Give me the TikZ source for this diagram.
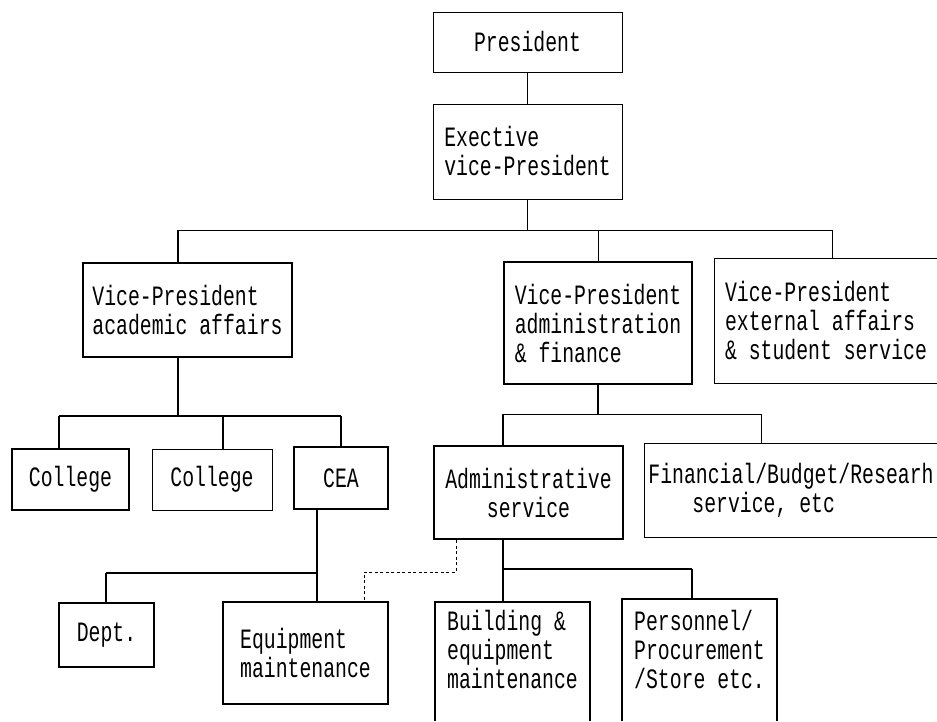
\documentclass[tikz,border=0pt]{standalone}
\usepackage{fontspec}
\newfontfamily\twfont[FakeStretch=0.707]{Liberation Mono}
\tikzset{
  box/.style={draw, inner sep=0pt, align=left, font=\twfont\fontsize{28}{29}\selectfont},
  openbox/.style={box, draw=none},
  thinl/.style={line width=1pt},
  medl/.style={line width=1.5pt},
  thickl/.style={line width=2.2pt},
  dotl/.style={line width=1pt, dash pattern=on 3pt off 2.5pt}
}
\begin{document}
\begin{tikzpicture}[x=1pt,y=-1pt]
\useasboundingbox[fill=white] (0,0) rectangle (937,721);
% boxes
\node[box, thinl, minimum width=189pt, minimum height=60pt] (pres) at (527.5,42) {President};
\node[box, thinl, minimum width=189pt, minimum height=95pt] (exec) at (527.5,151.5) {Exective\\vice-President};
\node[box, thickl, minimum width=209pt, minimum height=94pt] (vpa) at (187.5,310) {Vice-President\\academic affairs};
\node[box, thickl, minimum width=188pt, minimum height=122pt] (vpf) at (598,323) {Vice-President\\administration\\\& finance};
\node[openbox, minimum width=222pt, minimum height=124pt] (vpe) at (826,321) {Vice-President\\external affairs\\\& student service};
\node[box, medl, minimum width=117pt, minimum height=61pt] (col1) at (70.5,479.5) {College};
\node[box, thinl, minimum width=120pt, minimum height=61pt] (col2) at (212,479.5) {College};
\node[box, thickl, minimum width=94pt, minimum height=62pt] (cea) at (341,478) {CEA};
\node[box, thickl, minimum width=189pt, minimum height=93pt, align=center] (adm) at (528.5,492.5) {Administrative\\service};
\node[openbox, minimum width=292pt, minimum height=93pt] (fin) at (791,490.5) {Financial/Budget/Researh\\\hspace*{44pt}service, etc};
\node[box, medl, minimum width=95pt, minimum height=64pt] (dept) at (106.5,635) {Dept.};
\node[box, thickl, minimum width=165pt, minimum height=102pt] (equip) at (305.5,653) {Equipment\\maintenance};
\node[openbox, minimum width=155pt, minimum height=94pt] (bld) at (512.5,649) {Building \&\\equipment\\maintenance};
\node[openbox, minimum width=155pt, minimum height=100pt] (pers) at (699.5,649) {Personnel/\\Procurement\\/Store etc.};
\coordinate (bottom) at (0,721);
% open box outlines
\draw[thinl] (vpe.north east) -- (vpe.north west) -- (vpe.south west) -- (vpe.south east);
\draw[thinl] (fin.north east) -- (fin.north west) -- (fin.south west) -- (fin.south east);
\draw[thickl] (bld.north west |- bottom) -- (bld.north west) -- (bld.north east) -- (bld.north east |- bottom);
\draw[medl] (pers.north west |- bottom) -- (pers.north west) -- (pers.north east) -- (pers.north east |- bottom);
% bus coordinates
\coordinate (aL) at (178,230);
\coordinate (aR) at (832,230);
\coordinate (cL) at (59,416);
\coordinate (cM) at (223,416);
\coordinate (cR) at (341,416);
\coordinate (dL) at (106,573);
\coordinate (dR) at (317,573);
\coordinate (fL) at (503,414);
\coordinate (fR) at (761,414);
\coordinate (gL) at (503,569);
\coordinate (gR) at (692,569);
\coordinate (hT) at (456,572);
\coordinate (hL) at (364,572);
% connectors
\draw[thinl] (pres) -- (exec);
\draw[thinl] (exec.south) -- (exec.south |- aL);
\draw[thinl] (aL) -- (aR);
\draw[medl] (aL) -- (vpa.north -| aL);
\draw[thinl] (vpf.north |- aL) -- (vpf.north);
\draw[thinl] (aR) -- (vpe.north -| aR);
\draw[thickl] (vpa.south -| aL) -- (aL |- cL);
\draw[medl] (cL) -- (cR);
\draw[medl] (cL) -- (col1.north -| cL);
\draw[medl] (cM) -- (col2.north -| cM);
\draw[medl] (cR) -- (cea.north);
\draw[thickl] (cea.south -| dR) -- (dR);
\draw[thickl] (dL) -- (dR);
\draw[thickl] (dL) -- (dept.north -| dL);
\draw[thickl] (dR) -- (equip.north -| dR);
\draw[medl] (vpf.south) -- (vpf.south |- fL);
\draw[thinl] (fL) -- (fR);
\draw[medl] (fL) -- (adm.north -| fL);
\draw[thinl] (fR) -- (fin.north -| fR);
\draw[thickl] (adm.south -| gL) -- (gL);
\draw[medl] (gL) -- (gR);
\draw[thickl] (gL) -- (bld.north -| gL);
\draw[medl] (gR) -- (pers.north -| gR);
\draw[dotl] (adm.south -| hT) -- (hT) -- (hL) -- (equip.north -| hL);
\end{tikzpicture}
\end{document}
